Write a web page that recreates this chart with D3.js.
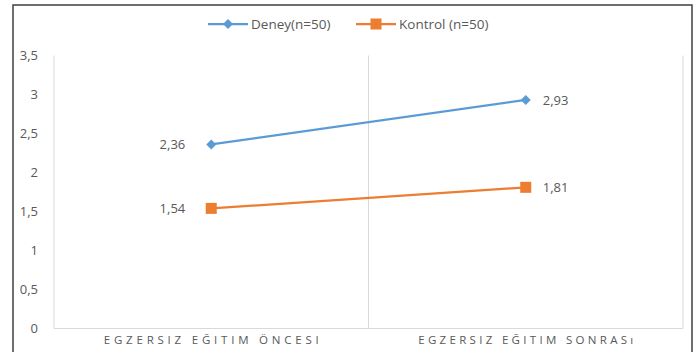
<!DOCTYPE html>
<html>
<head>
<meta charset="utf-8">
<script src="https://cdn.jsdelivr.net/npm/d3@7"></script>
<style>
  html, body { margin: 0; padding: 0; background: #fff; }
  svg { display: block; }
  text { font-family: "Open Sans", "Liberation Sans", sans-serif; fill: #595959; }
</style>
</head>
<body>
<svg id="chart" width="696" height="352"></svg>
<script>
// Exercise training scores, before and after
const categories = ["EGZERSIZ EĞITIM ÖNCESI", "EGZERSIZ EĞITIM SONRASı"];
const seriesNames = ["Deney(n=50)", "Kontrol (n=50)"];
const deneyValues = [2.36, 2.93];
const kontrolValues = [1.54, 1.81];
const yTicks = [0, 0.5, 1, 1.5, 2, 2.5, 3, 3.5];

const colors = ["#5B9BD5", "#ED7D31"];
const series = [
  { name: seriesNames[0], values: deneyValues, color: colors[0], marker: "diamond" },
  { name: seriesNames[1], values: kontrolValues, color: colors[1], marker: "square" }
];

const svg = d3.select("#chart");
const fmt = v => String(v).replace(".", ",");
const FONT = "'Open Sans', 'Liberation Sans', sans-serif";

// frame around the whole chart
svg.append("rect")
  .attr("x", 13).attr("y", 5).attr("width", 679).attr("height", 360)
  .attr("fill", "none").attr("stroke", "#3f3f3f").attr("stroke-width", 1.5);

const plot = { left: 54, right: 683, top: 55.5, bottom: 328.5 };

const x = d3.scaleBand().domain(categories).range([plot.left, plot.right]);
const y = d3.scaleLinear().domain([0, 3.5]).range([plot.bottom, plot.top]);

// vertical category separators
const seps = [plot.left, plot.left + x.bandwidth(), plot.right];
svg.append("g").selectAll("line").data(seps).join("line")
  .attr("x1", d => d).attr("x2", d => d)
  .attr("y1", plot.top).attr("y2", plot.bottom)
  .attr("stroke", "#d9d9d9").attr("stroke-width", 1);

// baseline
svg.append("line")
  .attr("x1", plot.left).attr("x2", plot.right)
  .attr("y1", plot.bottom).attr("y2", plot.bottom)
  .attr("stroke", "#d9d9d9").attr("stroke-width", 1);

// y axis labels
const yAxis = d3.axisLeft(y).tickValues(yTicks).tickSize(0).tickPadding(0).tickFormat(fmt);
const yg = svg.append("g").attr("transform", "translate(38,0)").call(yAxis);
yg.select(".domain").remove();
yg.selectAll("text").attr("font-size", 13).attr("fill", "#595959").style("font-family", FONT);

// x axis labels, letter-spaced to a fixed run width
const xAxis = d3.axisBottom(x).tickSize(0).tickPadding(0);
const xg = svg.append("g").attr("transform", `translate(0,${plot.bottom + 7})`).call(xAxis);
xg.select(".domain").remove();
xg.selectAll("text")
  .attr("font-size", 11.5).attr("fill", "#595959").style("font-family", FONT)
  .each(function () {
    const t = d3.select(this);
    const n = this.textContent.length;
    const natural = this.getComputedTextLength();
    const target = 215;
    const ls = (target - natural) / (n - 1);
    t.style("letter-spacing", ls + "px")
      .attr("dx", ls / 2);
  });

const cx = d => x(d) + x.bandwidth() / 2;
const line = d3.line().x((d, i) => cx(categories[i])).y(d => y(d));

function drawMarker(g, type, color, px, py) {
  if (type === "diamond") {
    g.append("path")
      .attr("d", `M${px},${py - 5}L${px + 5},${py}L${px},${py + 5}L${px - 5},${py}Z`)
      .attr("fill", color);
  } else {
    g.append("rect")
      .attr("x", px - 5.5).attr("y", py - 5.5).attr("width", 11).attr("height", 11)
      .attr("fill", color);
  }
}

series.forEach(s => {
  const g = svg.append("g");
  g.append("path").datum(s.values).attr("d", line)
    .attr("fill", "none").attr("stroke", s.color).attr("stroke-width", 2.25);
  s.values.forEach((v, i) => drawMarker(g, s.marker, s.color, cx(categories[i]), y(v)));
  // data labels
  g.append("text").attr("x", cx(categories[0]) - 26).attr("y", y(s.values[0]))
    .attr("dy", "0.35em").attr("text-anchor", "end").attr("font-size", 13)
    .text(fmt(s.values[0]));
  g.append("text").attr("x", cx(categories[1]) + 17).attr("y", y(s.values[1]))
    .attr("dy", "0.35em").attr("text-anchor", "start").attr("font-size", 13)
    .text(fmt(s.values[1]));
});

// legend
const legendItems = [
  { s: series[0], x0: 208 },
  { s: series[1], x0: 356 }
];
legendItems.forEach(({ s, x0 }) => {
  const g = svg.append("g");
  const ly = 24;
  g.append("line").attr("x1", x0).attr("x2", x0 + 40).attr("y1", ly).attr("y2", ly)
    .attr("stroke", s.color).attr("stroke-width", 2.25);
  drawMarker(g, s.marker, s.color, x0 + 20, ly);
  g.append("text").attr("x", x0 + 43).attr("y", ly).attr("dy", "0.35em")
    .attr("font-size", 13.5).text(s.name);
});
</script>
</body>
</html>
